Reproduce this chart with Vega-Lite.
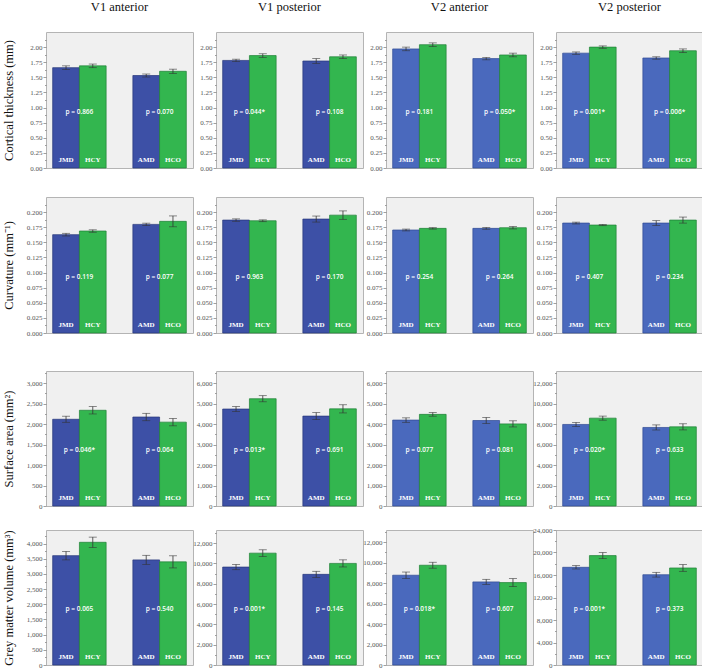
{
"$schema": "https://vega.github.io/schema/vega-lite/v6.json",
"padding": {"left": 1, "top": 0, "right": 0, "bottom": 0},
"data": {"values": [
{"m":"ct","r":"V1a","g":"JMD","mean":1.66,"lo":1.63,"hi":1.69,"p":"p = 0.866"},
{"m":"ct","r":"V1a","g":"HCY","mean":1.69,"lo":1.66,"hi":1.72},
{"m":"ct","r":"V1a","g":"AMD","mean":1.53,"lo":1.505,"hi":1.555,"p":"p = 0.070"},
{"m":"ct","r":"V1a","g":"HCO","mean":1.60,"lo":1.565,"hi":1.635},
{"m":"ct","r":"V1p","g":"JMD","mean":1.78,"lo":1.76,"hi":1.80,"p":"p = 0.044*"},
{"m":"ct","r":"V1p","g":"HCY","mean":1.86,"lo":1.83,"hi":1.89},
{"m":"ct","r":"V1p","g":"AMD","mean":1.77,"lo":1.73,"hi":1.81,"p":"p = 0.108"},
{"m":"ct","r":"V1p","g":"HCO","mean":1.84,"lo":1.81,"hi":1.87},
{"m":"ct","r":"V2a","g":"JMD","mean":1.97,"lo":1.94,"hi":2.00,"p":"p = 0.181"},
{"m":"ct","r":"V2a","g":"HCY","mean":2.04,"lo":2.01,"hi":2.07},
{"m":"ct","r":"V2a","g":"AMD","mean":1.81,"lo":1.79,"hi":1.83,"p":"p = 0.050*"},
{"m":"ct","r":"V2a","g":"HCO","mean":1.87,"lo":1.84,"hi":1.90},
{"m":"ct","r":"V2p","g":"JMD","mean":1.90,"lo":1.88,"hi":1.92,"p":"p = 0.001*"},
{"m":"ct","r":"V2p","g":"HCY","mean":2.00,"lo":1.98,"hi":2.02},
{"m":"ct","r":"V2p","g":"AMD","mean":1.82,"lo":1.80,"hi":1.84,"p":"p = 0.006*"},
{"m":"ct","r":"V2p","g":"HCO","mean":1.94,"lo":1.91,"hi":1.97},
{"m":"cu","r":"V1a","g":"JMD","mean":0.1627,"lo":0.1605,"hi":0.1649,"p":"p = 0.119"},
{"m":"cu","r":"V1a","g":"HCY","mean":0.1687,"lo":0.1667,"hi":0.1707},
{"m":"cu","r":"V1a","g":"AMD","mean":0.1797,"lo":0.1777,"hi":0.1817,"p":"p = 0.077"},
{"m":"cu","r":"V1a","g":"HCO","mean":0.1847,"lo":0.1757,"hi":0.1937},
{"m":"cu","r":"V1p","g":"JMD","mean":0.1868,"lo":0.1848,"hi":0.1888,"p":"p = 0.963"},
{"m":"cu","r":"V1p","g":"HCY","mean":0.1857,"lo":0.1842,"hi":0.1872},
{"m":"cu","r":"V1p","g":"AMD","mean":0.1885,"lo":0.1835,"hi":0.1935,"p":"p = 0.170"},
{"m":"cu","r":"V1p","g":"HCO","mean":0.1950,"lo":0.1880,"hi":0.2020},
{"m":"cu","r":"V2a","g":"JMD","mean":0.1704,"lo":0.1689,"hi":0.1719,"p":"p = 0.254"},
{"m":"cu","r":"V2a","g":"HCY","mean":0.1731,"lo":0.1719,"hi":0.1743},
{"m":"cu","r":"V2a","g":"AMD","mean":0.1731,"lo":0.1716,"hi":0.1746,"p":"p = 0.264"},
{"m":"cu","r":"V2a","g":"HCO","mean":0.1742,"lo":0.1722,"hi":0.1762},
{"m":"cu","r":"V2p","g":"JMD","mean":0.1819,"lo":0.1804,"hi":0.1834,"p":"p = 0.407"},
{"m":"cu","r":"V2p","g":"HCY","mean":0.1786,"lo":0.1776,"hi":0.1796},
{"m":"cu","r":"V2p","g":"AMD","mean":0.1819,"lo":0.1779,"hi":0.1859,"p":"p = 0.234"},
{"m":"cu","r":"V2p","g":"HCO","mean":0.1868,"lo":0.1818,"hi":0.1918},
{"m":"sa","r":"V1a","g":"JMD","mean":2120,"lo":2045,"hi":2195,"p":"p = 0.046*"},
{"m":"sa","r":"V1a","g":"HCY","mean":2340,"lo":2250,"hi":2430},
{"m":"sa","r":"V1a","g":"AMD","mean":2175,"lo":2085,"hi":2265,"p":"p = 0.064"},
{"m":"sa","r":"V1a","g":"HCO","mean":2050,"lo":1960,"hi":2140},
{"m":"sa","r":"V1p","g":"JMD","mean":4740,"lo":4620,"hi":4860,"p":"p = 0.013*"},
{"m":"sa","r":"V1p","g":"HCY","mean":5245,"lo":5095,"hi":5395},
{"m":"sa","r":"V1p","g":"AMD","mean":4395,"lo":4225,"hi":4565,"p":"p = 0.691"},
{"m":"sa","r":"V1p","g":"HCO","mean":4750,"lo":4550,"hi":4950},
{"m":"sa","r":"V2a","g":"JMD","mean":4200,"lo":4090,"hi":4310,"p":"p = 0.077"},
{"m":"sa","r":"V2a","g":"HCY","mean":4480,"lo":4390,"hi":4570},
{"m":"sa","r":"V2a","g":"AMD","mean":4180,"lo":4030,"hi":4330,"p":"p = 0.081"},
{"m":"sa","r":"V2a","g":"HCO","mean":4015,"lo":3865,"hi":4165},
{"m":"sa","r":"V2p","g":"JMD","mean":7975,"lo":7775,"hi":8175,"p":"p = 0.020*"},
{"m":"sa","r":"V2p","g":"HCY","mean":8590,"lo":8390,"hi":8790},
{"m":"sa","r":"V2p","g":"AMD","mean":7680,"lo":7430,"hi":7930,"p":"p = 0.633"},
{"m":"sa","r":"V2p","g":"HCO","mean":7740,"lo":7440,"hi":8040},
{"m":"gm","r":"V1a","g":"JMD","mean":3605,"lo":3465,"hi":3745,"p":"p = 0.065"},
{"m":"gm","r":"V1a","g":"HCY","mean":4045,"lo":3875,"hi":4215},
{"m":"gm","r":"V1a","g":"AMD","mean":3465,"lo":3315,"hi":3615,"p":"p = 0.540"},
{"m":"gm","r":"V1a","g":"HCO","mean":3400,"lo":3200,"hi":3600},
{"m":"gm","r":"V1p","g":"JMD","mean":9650,"lo":9390,"hi":9910,"p":"p = 0.001*"},
{"m":"gm","r":"V1p","g":"HCY","mean":11020,"lo":10690,"hi":11350},
{"m":"gm","r":"V1p","g":"AMD","mean":8930,"lo":8630,"hi":9230,"p":"p = 0.145"},
{"m":"gm","r":"V1p","g":"HCO","mean":10010,"lo":9660,"hi":10360},
{"m":"gm","r":"V2a","g":"JMD","mean":8780,"lo":8470,"hi":9090,"p":"p = 0.018*"},
{"m":"gm","r":"V2a","g":"HCY","mean":9755,"lo":9465,"hi":10045},
{"m":"gm","r":"V2a","g":"AMD","mean":8125,"lo":7875,"hi":8375,"p":"p = 0.607"},
{"m":"gm","r":"V2a","g":"HCO","mean":8060,"lo":7670,"hi":8450},
{"m":"gm","r":"V2p","g":"JMD","mean":17370,"lo":17070,"hi":17670,"p":"p = 0.001*"},
{"m":"gm","r":"V2p","g":"HCY","mean":19450,"lo":18910,"hi":19990},
{"m":"gm","r":"V2p","g":"AMD","mean":16050,"lo":15630,"hi":16470,"p":"p = 0.373"},
{"m":"gm","r":"V2p","g":"HCO","mean":17250,"lo":16650,"hi":17850}
]},
"spacing": 33,
"vconcat": [
{"spacing": 24, "vconcat": [
{"bounds": "flush", "spacing": 23, "hconcat": [
 {"width":147,"height":136,"title":"V1 anterior","transform":[{"filter":"datum.m=='ct'&&datum.r=='V1a'"}],"resolve":{"axis":{"y":"independent"}},
  "encoding":{"x":{"field":"g","type":"nominal","scale":{"domain":["JMD","HCY","gap","AMD","HCO"],"paddingInner":0,"paddingOuter":0.25},"axis":null}},
  "layer":[
   {"mark":{"type":"bar","strokeWidth":0.7},"encoding":{"y":{"field":"mean","type":"quantitative","scale":{"domain":[0,2.25],"nice":false},"axis":{"title":"Cortical thickness (mm)","titleX":-31,"format":".2f","values":[0,0.125,0.25,0.375,0.5,0.625,0.75,0.875,1,1.125,1.25,1.375,1.5,1.625,1.75,1.875,2,2.125],"labelExpr":"round(datum.value/0.125)%2?'':datum.label","tickSize":{"condition":{"test":"round(datum.value/0.125)%2==1","value":1.5},"value":3}}},"color":{"condition":{"test":"datum.g=='JMD'||datum.g=='AMD'","value":"#3d50a6"},"value":"#33b64f"},"stroke":{"condition":{"test":"datum.g=='JMD'||datum.g=='AMD'","value":"#27367a"},"value":"#1f7f36"}}},
   {"mark":{"type":"rule","color":"#333333","strokeWidth":0.8},"encoding":{"y":{"field":"lo","type":"quantitative","axis":null},"y2":{"field":"hi"}}},
   {"mark":{"type":"tick","color":"#333333","size":8,"thickness":0.8},"encoding":{"y":{"field":"lo","type":"quantitative","axis":null}}},
   {"mark":{"type":"tick","color":"#333333","size":8,"thickness":0.8},"encoding":{"y":{"field":"hi","type":"quantitative","axis":null}}},
   {"mark":{"type":"text","font":"Liberation Serif","fontSize":7,"fontWeight":"bold","color":"white","baseline":"middle"},"encoding":{"text":{"field":"g"},"y":{"value":128}}},
   {"transform":[{"filter":"datum.p"}],"mark":{"type":"text","font":"Open Sans","fontSize":6.5,"fontWeight":600,"color":"white","baseline":"middle"},"encoding":{"x":{"field":"g","type":"nominal","bandPosition":1},"text":{"field":"p"},"y":{"value":80}}}
  ]},
 {"width":147,"height":136,"title":"V1 posterior","transform":[{"filter":"datum.m=='ct'&&datum.r=='V1p'"}],"resolve":{"axis":{"y":"independent"}},
  "encoding":{"x":{"field":"g","type":"nominal","scale":{"domain":["JMD","HCY","gap","AMD","HCO"],"paddingInner":0,"paddingOuter":0.25},"axis":null}},
  "layer":[
   {"mark":{"type":"bar","strokeWidth":0.7},"encoding":{"y":{"field":"mean","type":"quantitative","scale":{"domain":[0,2.25],"nice":false},"axis":{"title":null,"format":".2f","values":[0,0.125,0.25,0.375,0.5,0.625,0.75,0.875,1,1.125,1.25,1.375,1.5,1.625,1.75,1.875,2,2.125],"labelExpr":"round(datum.value/0.125)%2?'':datum.label","tickSize":{"condition":{"test":"round(datum.value/0.125)%2==1","value":1.5},"value":3}}},"color":{"condition":{"test":"datum.g=='JMD'||datum.g=='AMD'","value":"#3d50a6"},"value":"#33b64f"},"stroke":{"condition":{"test":"datum.g=='JMD'||datum.g=='AMD'","value":"#27367a"},"value":"#1f7f36"}}},
   {"mark":{"type":"rule","color":"#333333","strokeWidth":0.8},"encoding":{"y":{"field":"lo","type":"quantitative","axis":null},"y2":{"field":"hi"}}},
   {"mark":{"type":"tick","color":"#333333","size":8,"thickness":0.8},"encoding":{"y":{"field":"lo","type":"quantitative","axis":null}}},
   {"mark":{"type":"tick","color":"#333333","size":8,"thickness":0.8},"encoding":{"y":{"field":"hi","type":"quantitative","axis":null}}},
   {"mark":{"type":"text","font":"Liberation Serif","fontSize":7,"fontWeight":"bold","color":"white","baseline":"middle"},"encoding":{"text":{"field":"g"},"y":{"value":128}}},
   {"transform":[{"filter":"datum.p"}],"mark":{"type":"text","font":"Open Sans","fontSize":6.5,"fontWeight":600,"color":"white","baseline":"middle"},"encoding":{"x":{"field":"g","type":"nominal","bandPosition":1},"text":{"field":"p"},"y":{"value":80}}}
  ]},
 {"width":147,"height":136,"title":"V2 anterior","transform":[{"filter":"datum.m=='ct'&&datum.r=='V2a'"}],"resolve":{"axis":{"y":"independent"}},
  "encoding":{"x":{"field":"g","type":"nominal","scale":{"domain":["JMD","HCY","gap","AMD","HCO"],"paddingInner":0,"paddingOuter":0.25},"axis":null}},
  "layer":[
   {"mark":{"type":"bar","strokeWidth":0.7},"encoding":{"y":{"field":"mean","type":"quantitative","scale":{"domain":[0,2.25],"nice":false},"axis":{"title":null,"format":".2f","values":[0,0.125,0.25,0.375,0.5,0.625,0.75,0.875,1,1.125,1.25,1.375,1.5,1.625,1.75,1.875,2,2.125],"labelExpr":"round(datum.value/0.125)%2?'':datum.label","tickSize":{"condition":{"test":"round(datum.value/0.125)%2==1","value":1.5},"value":3}}},"color":{"condition":{"test":"datum.g=='JMD'||datum.g=='AMD'","value":"#4a69bd"},"value":"#33b64f"},"stroke":{"condition":{"test":"datum.g=='JMD'||datum.g=='AMD'","value":"#2f4a93"},"value":"#1f7f36"}}},
   {"mark":{"type":"rule","color":"#333333","strokeWidth":0.8},"encoding":{"y":{"field":"lo","type":"quantitative","axis":null},"y2":{"field":"hi"}}},
   {"mark":{"type":"tick","color":"#333333","size":8,"thickness":0.8},"encoding":{"y":{"field":"lo","type":"quantitative","axis":null}}},
   {"mark":{"type":"tick","color":"#333333","size":8,"thickness":0.8},"encoding":{"y":{"field":"hi","type":"quantitative","axis":null}}},
   {"mark":{"type":"text","font":"Liberation Serif","fontSize":7,"fontWeight":"bold","color":"white","baseline":"middle"},"encoding":{"text":{"field":"g"},"y":{"value":128}}},
   {"transform":[{"filter":"datum.p"}],"mark":{"type":"text","font":"Open Sans","fontSize":6.5,"fontWeight":600,"color":"white","baseline":"middle"},"encoding":{"x":{"field":"g","type":"nominal","bandPosition":1},"text":{"field":"p"},"y":{"value":80}}}
  ]},
 {"width":147,"height":136,"title":"V2 posterior","transform":[{"filter":"datum.m=='ct'&&datum.r=='V2p'"}],"resolve":{"axis":{"y":"independent"}},
  "encoding":{"x":{"field":"g","type":"nominal","scale":{"domain":["JMD","HCY","gap","AMD","HCO"],"paddingInner":0,"paddingOuter":0.25},"axis":null}},
  "layer":[
   {"mark":{"type":"bar","strokeWidth":0.7},"encoding":{"y":{"field":"mean","type":"quantitative","scale":{"domain":[0,2.25],"nice":false},"axis":{"title":null,"format":".2f","values":[0,0.125,0.25,0.375,0.5,0.625,0.75,0.875,1,1.125,1.25,1.375,1.5,1.625,1.75,1.875,2,2.125],"labelExpr":"round(datum.value/0.125)%2?'':datum.label","tickSize":{"condition":{"test":"round(datum.value/0.125)%2==1","value":1.5},"value":3}}},"color":{"condition":{"test":"datum.g=='JMD'||datum.g=='AMD'","value":"#4a69bd"},"value":"#33b64f"},"stroke":{"condition":{"test":"datum.g=='JMD'||datum.g=='AMD'","value":"#2f4a93"},"value":"#1f7f36"}}},
   {"mark":{"type":"rule","color":"#333333","strokeWidth":0.8},"encoding":{"y":{"field":"lo","type":"quantitative","axis":null},"y2":{"field":"hi"}}},
   {"mark":{"type":"tick","color":"#333333","size":8,"thickness":0.8},"encoding":{"y":{"field":"lo","type":"quantitative","axis":null}}},
   {"mark":{"type":"tick","color":"#333333","size":8,"thickness":0.8},"encoding":{"y":{"field":"hi","type":"quantitative","axis":null}}},
   {"mark":{"type":"text","font":"Liberation Serif","fontSize":7,"fontWeight":"bold","color":"white","baseline":"middle"},"encoding":{"text":{"field":"g"},"y":{"value":128}}},
   {"transform":[{"filter":"datum.p"}],"mark":{"type":"text","font":"Open Sans","fontSize":6.5,"fontWeight":600,"color":"white","baseline":"middle"},"encoding":{"x":{"field":"g","type":"nominal","bandPosition":1},"text":{"field":"p"},"y":{"value":80}}}
  ]}
]},
{"bounds": "flush", "spacing": 23, "hconcat": [
 {"width":147,"height":136,"transform":[{"filter":"datum.m=='cu'&&datum.r=='V1a'"}],"resolve":{"axis":{"y":"independent"}},
  "encoding":{"x":{"field":"g","type":"nominal","scale":{"domain":["JMD","HCY","gap","AMD","HCO"],"paddingInner":0,"paddingOuter":0.25},"axis":null}},
  "layer":[
   {"mark":{"type":"bar","strokeWidth":0.7},"encoding":{"y":{"field":"mean","type":"quantitative","scale":{"domain":[0,0.225],"nice":false},"axis":{"title":"Curvature (mm⁻¹)","titleX":-31,"format":".3f","values":[0,0.0125,0.025,0.0375,0.05,0.0625,0.075,0.0875,0.1,0.1125,0.125,0.1375,0.15,0.1625,0.175,0.1875,0.2,0.2125],"labelExpr":"round(datum.value/0.0125)%2?'':datum.label","tickSize":{"condition":{"test":"round(datum.value/0.0125)%2==1","value":1.5},"value":3}}},"color":{"condition":{"test":"datum.g=='JMD'||datum.g=='AMD'","value":"#3d50a6"},"value":"#33b64f"},"stroke":{"condition":{"test":"datum.g=='JMD'||datum.g=='AMD'","value":"#27367a"},"value":"#1f7f36"}}},
   {"mark":{"type":"rule","color":"#333333","strokeWidth":0.8},"encoding":{"y":{"field":"lo","type":"quantitative","axis":null},"y2":{"field":"hi"}}},
   {"mark":{"type":"tick","color":"#333333","size":8,"thickness":0.8},"encoding":{"y":{"field":"lo","type":"quantitative","axis":null}}},
   {"mark":{"type":"tick","color":"#333333","size":8,"thickness":0.8},"encoding":{"y":{"field":"hi","type":"quantitative","axis":null}}},
   {"mark":{"type":"text","font":"Liberation Serif","fontSize":7,"fontWeight":"bold","color":"white","baseline":"middle"},"encoding":{"text":{"field":"g"},"y":{"value":128}}},
   {"transform":[{"filter":"datum.p"}],"mark":{"type":"text","font":"Open Sans","fontSize":6.5,"fontWeight":600,"color":"white","baseline":"middle"},"encoding":{"x":{"field":"g","type":"nominal","bandPosition":1},"text":{"field":"p"},"y":{"value":80}}}
  ]},
 {"width":147,"height":136,"transform":[{"filter":"datum.m=='cu'&&datum.r=='V1p'"}],"resolve":{"axis":{"y":"independent"}},
  "encoding":{"x":{"field":"g","type":"nominal","scale":{"domain":["JMD","HCY","gap","AMD","HCO"],"paddingInner":0,"paddingOuter":0.25},"axis":null}},
  "layer":[
   {"mark":{"type":"bar","strokeWidth":0.7},"encoding":{"y":{"field":"mean","type":"quantitative","scale":{"domain":[0,0.225],"nice":false},"axis":{"title":null,"format":".3f","values":[0,0.0125,0.025,0.0375,0.05,0.0625,0.075,0.0875,0.1,0.1125,0.125,0.1375,0.15,0.1625,0.175,0.1875,0.2,0.2125],"labelExpr":"round(datum.value/0.0125)%2?'':datum.label","tickSize":{"condition":{"test":"round(datum.value/0.0125)%2==1","value":1.5},"value":3}}},"color":{"condition":{"test":"datum.g=='JMD'||datum.g=='AMD'","value":"#3d50a6"},"value":"#33b64f"},"stroke":{"condition":{"test":"datum.g=='JMD'||datum.g=='AMD'","value":"#27367a"},"value":"#1f7f36"}}},
   {"mark":{"type":"rule","color":"#333333","strokeWidth":0.8},"encoding":{"y":{"field":"lo","type":"quantitative","axis":null},"y2":{"field":"hi"}}},
   {"mark":{"type":"tick","color":"#333333","size":8,"thickness":0.8},"encoding":{"y":{"field":"lo","type":"quantitative","axis":null}}},
   {"mark":{"type":"tick","color":"#333333","size":8,"thickness":0.8},"encoding":{"y":{"field":"hi","type":"quantitative","axis":null}}},
   {"mark":{"type":"text","font":"Liberation Serif","fontSize":7,"fontWeight":"bold","color":"white","baseline":"middle"},"encoding":{"text":{"field":"g"},"y":{"value":128}}},
   {"transform":[{"filter":"datum.p"}],"mark":{"type":"text","font":"Open Sans","fontSize":6.5,"fontWeight":600,"color":"white","baseline":"middle"},"encoding":{"x":{"field":"g","type":"nominal","bandPosition":1},"text":{"field":"p"},"y":{"value":80}}}
  ]},
 {"width":147,"height":136,"transform":[{"filter":"datum.m=='cu'&&datum.r=='V2a'"}],"resolve":{"axis":{"y":"independent"}},
  "encoding":{"x":{"field":"g","type":"nominal","scale":{"domain":["JMD","HCY","gap","AMD","HCO"],"paddingInner":0,"paddingOuter":0.25},"axis":null}},
  "layer":[
   {"mark":{"type":"bar","strokeWidth":0.7},"encoding":{"y":{"field":"mean","type":"quantitative","scale":{"domain":[0,0.225],"nice":false},"axis":{"title":null,"format":".3f","values":[0,0.0125,0.025,0.0375,0.05,0.0625,0.075,0.0875,0.1,0.1125,0.125,0.1375,0.15,0.1625,0.175,0.1875,0.2,0.2125],"labelExpr":"round(datum.value/0.0125)%2?'':datum.label","tickSize":{"condition":{"test":"round(datum.value/0.0125)%2==1","value":1.5},"value":3}}},"color":{"condition":{"test":"datum.g=='JMD'||datum.g=='AMD'","value":"#4a69bd"},"value":"#33b64f"},"stroke":{"condition":{"test":"datum.g=='JMD'||datum.g=='AMD'","value":"#2f4a93"},"value":"#1f7f36"}}},
   {"mark":{"type":"rule","color":"#333333","strokeWidth":0.8},"encoding":{"y":{"field":"lo","type":"quantitative","axis":null},"y2":{"field":"hi"}}},
   {"mark":{"type":"tick","color":"#333333","size":8,"thickness":0.8},"encoding":{"y":{"field":"lo","type":"quantitative","axis":null}}},
   {"mark":{"type":"tick","color":"#333333","size":8,"thickness":0.8},"encoding":{"y":{"field":"hi","type":"quantitative","axis":null}}},
   {"mark":{"type":"text","font":"Liberation Serif","fontSize":7,"fontWeight":"bold","color":"white","baseline":"middle"},"encoding":{"text":{"field":"g"},"y":{"value":128}}},
   {"transform":[{"filter":"datum.p"}],"mark":{"type":"text","font":"Open Sans","fontSize":6.5,"fontWeight":600,"color":"white","baseline":"middle"},"encoding":{"x":{"field":"g","type":"nominal","bandPosition":1},"text":{"field":"p"},"y":{"value":80}}}
  ]},
 {"width":147,"height":136,"transform":[{"filter":"datum.m=='cu'&&datum.r=='V2p'"}],"resolve":{"axis":{"y":"independent"}},
  "encoding":{"x":{"field":"g","type":"nominal","scale":{"domain":["JMD","HCY","gap","AMD","HCO"],"paddingInner":0,"paddingOuter":0.25},"axis":null}},
  "layer":[
   {"mark":{"type":"bar","strokeWidth":0.7},"encoding":{"y":{"field":"mean","type":"quantitative","scale":{"domain":[0,0.225],"nice":false},"axis":{"title":null,"format":".3f","values":[0,0.0125,0.025,0.0375,0.05,0.0625,0.075,0.0875,0.1,0.1125,0.125,0.1375,0.15,0.1625,0.175,0.1875,0.2,0.2125],"labelExpr":"round(datum.value/0.0125)%2?'':datum.label","tickSize":{"condition":{"test":"round(datum.value/0.0125)%2==1","value":1.5},"value":3}}},"color":{"condition":{"test":"datum.g=='JMD'||datum.g=='AMD'","value":"#4a69bd"},"value":"#33b64f"},"stroke":{"condition":{"test":"datum.g=='JMD'||datum.g=='AMD'","value":"#2f4a93"},"value":"#1f7f36"}}},
   {"mark":{"type":"rule","color":"#333333","strokeWidth":0.8},"encoding":{"y":{"field":"lo","type":"quantitative","axis":null},"y2":{"field":"hi"}}},
   {"mark":{"type":"tick","color":"#333333","size":8,"thickness":0.8},"encoding":{"y":{"field":"lo","type":"quantitative","axis":null}}},
   {"mark":{"type":"tick","color":"#333333","size":8,"thickness":0.8},"encoding":{"y":{"field":"hi","type":"quantitative","axis":null}}},
   {"mark":{"type":"text","font":"Liberation Serif","fontSize":7,"fontWeight":"bold","color":"white","baseline":"middle"},"encoding":{"text":{"field":"g"},"y":{"value":128}}},
   {"transform":[{"filter":"datum.p"}],"mark":{"type":"text","font":"Open Sans","fontSize":6.5,"fontWeight":600,"color":"white","baseline":"middle"},"encoding":{"x":{"field":"g","type":"nominal","bandPosition":1},"text":{"field":"p"},"y":{"value":80}}}
  ]}
]}
]},
{"spacing": 15, "vconcat": [
{"bounds": "flush", "spacing": 23, "hconcat": [
 {"width":147,"height":135,"transform":[{"filter":"datum.m=='sa'&&datum.r=='V1a'"}],"resolve":{"axis":{"y":"independent"}},
  "encoding":{"x":{"field":"g","type":"nominal","scale":{"domain":["JMD","HCY","gap","AMD","HCO"],"paddingInner":0,"paddingOuter":0.25},"axis":null}},
  "layer":[
   {"mark":{"type":"bar","strokeWidth":0.7},"encoding":{"y":{"field":"mean","type":"quantitative","scale":{"domain":[0,3300],"nice":false},"axis":{"title":"Surface area (mm²)","titleX":-31,"format":",.0f","values":[0,250,500,750,1000,1250,1500,1750,2000,2250,2500,2750,3000,3250],"labelExpr":"round(datum.value/250)%2?'':datum.label","tickSize":{"condition":{"test":"round(datum.value/250)%2==1","value":1.5},"value":3}}},"color":{"condition":{"test":"datum.g=='JMD'||datum.g=='AMD'","value":"#3d50a6"},"value":"#33b64f"},"stroke":{"condition":{"test":"datum.g=='JMD'||datum.g=='AMD'","value":"#27367a"},"value":"#1f7f36"}}},
   {"mark":{"type":"rule","color":"#333333","strokeWidth":0.8},"encoding":{"y":{"field":"lo","type":"quantitative","axis":null},"y2":{"field":"hi"}}},
   {"mark":{"type":"tick","color":"#333333","size":8,"thickness":0.8},"encoding":{"y":{"field":"lo","type":"quantitative","axis":null}}},
   {"mark":{"type":"tick","color":"#333333","size":8,"thickness":0.8},"encoding":{"y":{"field":"hi","type":"quantitative","axis":null}}},
   {"mark":{"type":"text","font":"Liberation Serif","fontSize":7,"fontWeight":"bold","color":"white","baseline":"middle"},"encoding":{"text":{"field":"g"},"y":{"value":127}}},
   {"transform":[{"filter":"datum.p"}],"mark":{"type":"text","font":"Open Sans","fontSize":6.5,"fontWeight":600,"color":"white","baseline":"middle"},"encoding":{"x":{"field":"g","type":"nominal","bandPosition":1},"text":{"field":"p"},"y":{"value":79}}}
  ]},
 {"width":147,"height":135,"transform":[{"filter":"datum.m=='sa'&&datum.r=='V1p'"}],"resolve":{"axis":{"y":"independent"}},
  "encoding":{"x":{"field":"g","type":"nominal","scale":{"domain":["JMD","HCY","gap","AMD","HCO"],"paddingInner":0,"paddingOuter":0.25},"axis":null}},
  "layer":[
   {"mark":{"type":"bar","strokeWidth":0.7},"encoding":{"y":{"field":"mean","type":"quantitative","scale":{"domain":[0,6600],"nice":false},"axis":{"title":null,"format":",.0f","values":[0,500,1000,1500,2000,2500,3000,3500,4000,4500,5000,5500,6000,6500],"labelExpr":"round(datum.value/500)%2?'':datum.label","tickSize":{"condition":{"test":"round(datum.value/500)%2==1","value":1.5},"value":3}}},"color":{"condition":{"test":"datum.g=='JMD'||datum.g=='AMD'","value":"#3d50a6"},"value":"#33b64f"},"stroke":{"condition":{"test":"datum.g=='JMD'||datum.g=='AMD'","value":"#27367a"},"value":"#1f7f36"}}},
   {"mark":{"type":"rule","color":"#333333","strokeWidth":0.8},"encoding":{"y":{"field":"lo","type":"quantitative","axis":null},"y2":{"field":"hi"}}},
   {"mark":{"type":"tick","color":"#333333","size":8,"thickness":0.8},"encoding":{"y":{"field":"lo","type":"quantitative","axis":null}}},
   {"mark":{"type":"tick","color":"#333333","size":8,"thickness":0.8},"encoding":{"y":{"field":"hi","type":"quantitative","axis":null}}},
   {"mark":{"type":"text","font":"Liberation Serif","fontSize":7,"fontWeight":"bold","color":"white","baseline":"middle"},"encoding":{"text":{"field":"g"},"y":{"value":127}}},
   {"transform":[{"filter":"datum.p"}],"mark":{"type":"text","font":"Open Sans","fontSize":6.5,"fontWeight":600,"color":"white","baseline":"middle"},"encoding":{"x":{"field":"g","type":"nominal","bandPosition":1},"text":{"field":"p"},"y":{"value":79}}}
  ]},
 {"width":147,"height":135,"transform":[{"filter":"datum.m=='sa'&&datum.r=='V2a'"}],"resolve":{"axis":{"y":"independent"}},
  "encoding":{"x":{"field":"g","type":"nominal","scale":{"domain":["JMD","HCY","gap","AMD","HCO"],"paddingInner":0,"paddingOuter":0.25},"axis":null}},
  "layer":[
   {"mark":{"type":"bar","strokeWidth":0.7},"encoding":{"y":{"field":"mean","type":"quantitative","scale":{"domain":[0,6600],"nice":false},"axis":{"title":null,"format":",.0f","values":[0,500,1000,1500,2000,2500,3000,3500,4000,4500,5000,5500,6000,6500],"labelExpr":"round(datum.value/500)%2?'':datum.label","tickSize":{"condition":{"test":"round(datum.value/500)%2==1","value":1.5},"value":3}}},"color":{"condition":{"test":"datum.g=='JMD'||datum.g=='AMD'","value":"#4a69bd"},"value":"#33b64f"},"stroke":{"condition":{"test":"datum.g=='JMD'||datum.g=='AMD'","value":"#2f4a93"},"value":"#1f7f36"}}},
   {"mark":{"type":"rule","color":"#333333","strokeWidth":0.8},"encoding":{"y":{"field":"lo","type":"quantitative","axis":null},"y2":{"field":"hi"}}},
   {"mark":{"type":"tick","color":"#333333","size":8,"thickness":0.8},"encoding":{"y":{"field":"lo","type":"quantitative","axis":null}}},
   {"mark":{"type":"tick","color":"#333333","size":8,"thickness":0.8},"encoding":{"y":{"field":"hi","type":"quantitative","axis":null}}},
   {"mark":{"type":"text","font":"Liberation Serif","fontSize":7,"fontWeight":"bold","color":"white","baseline":"middle"},"encoding":{"text":{"field":"g"},"y":{"value":127}}},
   {"transform":[{"filter":"datum.p"}],"mark":{"type":"text","font":"Open Sans","fontSize":6.5,"fontWeight":600,"color":"white","baseline":"middle"},"encoding":{"x":{"field":"g","type":"nominal","bandPosition":1},"text":{"field":"p"},"y":{"value":79}}}
  ]},
 {"width":147,"height":135,"transform":[{"filter":"datum.m=='sa'&&datum.r=='V2p'"}],"resolve":{"axis":{"y":"independent"}},
  "encoding":{"x":{"field":"g","type":"nominal","scale":{"domain":["JMD","HCY","gap","AMD","HCO"],"paddingInner":0,"paddingOuter":0.25},"axis":null}},
  "layer":[
   {"mark":{"type":"bar","strokeWidth":0.7},"encoding":{"y":{"field":"mean","type":"quantitative","scale":{"domain":[0,13200],"nice":false},"axis":{"title":null,"format":",.0f","values":[0,1000,2000,3000,4000,5000,6000,7000,8000,9000,10000,11000,12000,13000],"labelExpr":"round(datum.value/1000)%2?'':datum.label","tickSize":{"condition":{"test":"round(datum.value/1000)%2==1","value":1.5},"value":3}}},"color":{"condition":{"test":"datum.g=='JMD'||datum.g=='AMD'","value":"#4a69bd"},"value":"#33b64f"},"stroke":{"condition":{"test":"datum.g=='JMD'||datum.g=='AMD'","value":"#2f4a93"},"value":"#1f7f36"}}},
   {"mark":{"type":"rule","color":"#333333","strokeWidth":0.8},"encoding":{"y":{"field":"lo","type":"quantitative","axis":null},"y2":{"field":"hi"}}},
   {"mark":{"type":"tick","color":"#333333","size":8,"thickness":0.8},"encoding":{"y":{"field":"lo","type":"quantitative","axis":null}}},
   {"mark":{"type":"tick","color":"#333333","size":8,"thickness":0.8},"encoding":{"y":{"field":"hi","type":"quantitative","axis":null}}},
   {"mark":{"type":"text","font":"Liberation Serif","fontSize":7,"fontWeight":"bold","color":"white","baseline":"middle"},"encoding":{"text":{"field":"g"},"y":{"value":127}}},
   {"transform":[{"filter":"datum.p"}],"mark":{"type":"text","font":"Open Sans","fontSize":6.5,"fontWeight":600,"color":"white","baseline":"middle"},"encoding":{"x":{"field":"g","type":"nominal","bandPosition":1},"text":{"field":"p"},"y":{"value":79}}}
  ]}
]},
{"bounds": "flush", "spacing": 23, "hconcat": [
 {"width":147,"height":135,"transform":[{"filter":"datum.m=='gm'&&datum.r=='V1a'"}],"resolve":{"axis":{"y":"independent"}},
  "encoding":{"x":{"field":"g","type":"nominal","scale":{"domain":["JMD","HCY","gap","AMD","HCO"],"paddingInner":0,"paddingOuter":0.25},"axis":null}},
  "layer":[
   {"mark":{"type":"bar","strokeWidth":0.7},"encoding":{"y":{"field":"mean","type":"quantitative","scale":{"domain":[0,4450],"nice":false},"axis":{"title":"Grey matter volume (mm³)","titleX":-31,"format":",.0f","values":[0,250,500,750,1000,1250,1500,1750,2000,2250,2500,2750,3000,3250,3500,3750,4000,4250],"labelExpr":"round(datum.value/250)%2?'':datum.label","tickSize":{"condition":{"test":"round(datum.value/250)%2==1","value":1.5},"value":3}}},"color":{"condition":{"test":"datum.g=='JMD'||datum.g=='AMD'","value":"#3d50a6"},"value":"#33b64f"},"stroke":{"condition":{"test":"datum.g=='JMD'||datum.g=='AMD'","value":"#27367a"},"value":"#1f7f36"}}},
   {"mark":{"type":"rule","color":"#333333","strokeWidth":0.8},"encoding":{"y":{"field":"lo","type":"quantitative","axis":null},"y2":{"field":"hi"}}},
   {"mark":{"type":"tick","color":"#333333","size":8,"thickness":0.8},"encoding":{"y":{"field":"lo","type":"quantitative","axis":null}}},
   {"mark":{"type":"tick","color":"#333333","size":8,"thickness":0.8},"encoding":{"y":{"field":"hi","type":"quantitative","axis":null}}},
   {"mark":{"type":"text","font":"Liberation Serif","fontSize":7,"fontWeight":"bold","color":"white","baseline":"middle"},"encoding":{"text":{"field":"g"},"y":{"value":127}}},
   {"transform":[{"filter":"datum.p"}],"mark":{"type":"text","font":"Open Sans","fontSize":6.5,"fontWeight":600,"color":"white","baseline":"middle"},"encoding":{"x":{"field":"g","type":"nominal","bandPosition":1},"text":{"field":"p"},"y":{"value":79}}}
  ]},
 {"width":147,"height":135,"transform":[{"filter":"datum.m=='gm'&&datum.r=='V1p'"}],"resolve":{"axis":{"y":"independent"}},
  "encoding":{"x":{"field":"g","type":"nominal","scale":{"domain":["JMD","HCY","gap","AMD","HCO"],"paddingInner":0,"paddingOuter":0.25},"axis":null}},
  "layer":[
   {"mark":{"type":"bar","strokeWidth":0.7},"encoding":{"y":{"field":"mean","type":"quantitative","scale":{"domain":[0,13300],"nice":false},"axis":{"title":null,"format":",.0f","values":[0,1000,2000,3000,4000,5000,6000,7000,8000,9000,10000,11000,12000,13000],"labelExpr":"round(datum.value/1000)%2?'':datum.label","tickSize":{"condition":{"test":"round(datum.value/1000)%2==1","value":1.5},"value":3}}},"color":{"condition":{"test":"datum.g=='JMD'||datum.g=='AMD'","value":"#3d50a6"},"value":"#33b64f"},"stroke":{"condition":{"test":"datum.g=='JMD'||datum.g=='AMD'","value":"#27367a"},"value":"#1f7f36"}}},
   {"mark":{"type":"rule","color":"#333333","strokeWidth":0.8},"encoding":{"y":{"field":"lo","type":"quantitative","axis":null},"y2":{"field":"hi"}}},
   {"mark":{"type":"tick","color":"#333333","size":8,"thickness":0.8},"encoding":{"y":{"field":"lo","type":"quantitative","axis":null}}},
   {"mark":{"type":"tick","color":"#333333","size":8,"thickness":0.8},"encoding":{"y":{"field":"hi","type":"quantitative","axis":null}}},
   {"mark":{"type":"text","font":"Liberation Serif","fontSize":7,"fontWeight":"bold","color":"white","baseline":"middle"},"encoding":{"text":{"field":"g"},"y":{"value":127}}},
   {"transform":[{"filter":"datum.p"}],"mark":{"type":"text","font":"Open Sans","fontSize":6.5,"fontWeight":600,"color":"white","baseline":"middle"},"encoding":{"x":{"field":"g","type":"nominal","bandPosition":1},"text":{"field":"p"},"y":{"value":79}}}
  ]},
 {"width":147,"height":135,"transform":[{"filter":"datum.m=='gm'&&datum.r=='V2a'"}],"resolve":{"axis":{"y":"independent"}},
  "encoding":{"x":{"field":"g","type":"nominal","scale":{"domain":["JMD","HCY","gap","AMD","HCO"],"paddingInner":0,"paddingOuter":0.25},"axis":null}},
  "layer":[
   {"mark":{"type":"bar","strokeWidth":0.7},"encoding":{"y":{"field":"mean","type":"quantitative","scale":{"domain":[0,13200],"nice":false},"axis":{"title":null,"format":",.0f","values":[0,1000,2000,3000,4000,5000,6000,7000,8000,9000,10000,11000,12000,13000],"labelExpr":"round(datum.value/1000)%2?'':datum.label","tickSize":{"condition":{"test":"round(datum.value/1000)%2==1","value":1.5},"value":3}}},"color":{"condition":{"test":"datum.g=='JMD'||datum.g=='AMD'","value":"#4a69bd"},"value":"#33b64f"},"stroke":{"condition":{"test":"datum.g=='JMD'||datum.g=='AMD'","value":"#2f4a93"},"value":"#1f7f36"}}},
   {"mark":{"type":"rule","color":"#333333","strokeWidth":0.8},"encoding":{"y":{"field":"lo","type":"quantitative","axis":null},"y2":{"field":"hi"}}},
   {"mark":{"type":"tick","color":"#333333","size":8,"thickness":0.8},"encoding":{"y":{"field":"lo","type":"quantitative","axis":null}}},
   {"mark":{"type":"tick","color":"#333333","size":8,"thickness":0.8},"encoding":{"y":{"field":"hi","type":"quantitative","axis":null}}},
   {"mark":{"type":"text","font":"Liberation Serif","fontSize":7,"fontWeight":"bold","color":"white","baseline":"middle"},"encoding":{"text":{"field":"g"},"y":{"value":127}}},
   {"transform":[{"filter":"datum.p"}],"mark":{"type":"text","font":"Open Sans","fontSize":6.5,"fontWeight":600,"color":"white","baseline":"middle"},"encoding":{"x":{"field":"g","type":"nominal","bandPosition":1},"text":{"field":"p"},"y":{"value":79}}}
  ]},
 {"width":147,"height":135,"transform":[{"filter":"datum.m=='gm'&&datum.r=='V2p'"}],"resolve":{"axis":{"y":"independent"}},
  "encoding":{"x":{"field":"g","type":"nominal","scale":{"domain":["JMD","HCY","gap","AMD","HCO"],"paddingInner":0,"paddingOuter":0.25},"axis":null}},
  "layer":[
   {"mark":{"type":"bar","strokeWidth":0.7},"encoding":{"y":{"field":"mean","type":"quantitative","scale":{"domain":[0,24000],"nice":false},"axis":{"title":null,"format":",.0f","values":[0,2000,4000,6000,8000,10000,12000,14000,16000,18000,20000,22000,24000],"labelExpr":"round(datum.value/2000)%2?'':datum.label","tickSize":{"condition":{"test":"round(datum.value/2000)%2==1","value":1.5},"value":3}}},"color":{"condition":{"test":"datum.g=='JMD'||datum.g=='AMD'","value":"#4a69bd"},"value":"#33b64f"},"stroke":{"condition":{"test":"datum.g=='JMD'||datum.g=='AMD'","value":"#2f4a93"},"value":"#1f7f36"}}},
   {"mark":{"type":"rule","color":"#333333","strokeWidth":0.8},"encoding":{"y":{"field":"lo","type":"quantitative","axis":null},"y2":{"field":"hi"}}},
   {"mark":{"type":"tick","color":"#333333","size":8,"thickness":0.8},"encoding":{"y":{"field":"lo","type":"quantitative","axis":null}}},
   {"mark":{"type":"tick","color":"#333333","size":8,"thickness":0.8},"encoding":{"y":{"field":"hi","type":"quantitative","axis":null}}},
   {"mark":{"type":"text","font":"Liberation Serif","fontSize":7,"fontWeight":"bold","color":"white","baseline":"middle"},"encoding":{"text":{"field":"g"},"y":{"value":127}}},
   {"transform":[{"filter":"datum.p"}],"mark":{"type":"text","font":"Open Sans","fontSize":6.5,"fontWeight":600,"color":"white","baseline":"middle"},"encoding":{"x":{"field":"g","type":"nominal","bandPosition":1},"text":{"field":"p"},"y":{"value":79}}}
  ]}
]}
]}
],
"config": {
 "view": {"fill": "#f0f0f0", "stroke": "#b4b4b4", "strokeWidth": 1},
 "axis": {"domain": false, "grid": false, "labelFont": "Liberation Serif", "labelFontSize": 7, "labelColor": "#555555", "tickColor": "#777777", "tickWidth": 0.7, "labelPadding": 1, "titleFont": "Liberation Serif", "titleFontSize": 12.5, "titleFontWeight": "normal", "titleColor": "#111111"},
 "title": {"font": "Liberation Serif", "fontSize": 12.5, "fontWeight": "normal", "color": "#111111", "frame": "group", "baseline": "alphabetic", "offset": 19}
}
}
